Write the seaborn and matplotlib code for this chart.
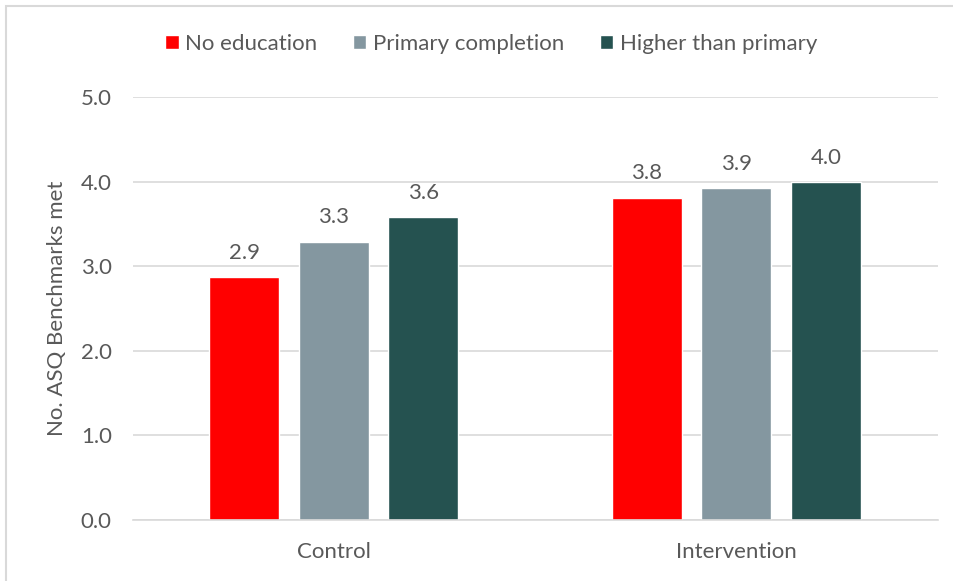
import numpy as np
import pandas as pd
import seaborn as sns
import matplotlib.pyplot as plt
from matplotlib.patches import Rectangle

# data
groups = ["Control", "Intervention"]
education = ["No education", "Primary completion", "Higher than primary"]
control_vals = [2.87, 3.29, 3.58]
intervention_vals = [3.81, 3.92, 3.99]
colors = ["#FF0000", "#8497A0", "#255250"]

df = pd.DataFrame({
    "group": [g for g in groups for _ in education],
    "education": education * 2,
    "value": control_vals + intervention_vals,
})

sns.set_theme(style="white")
plt.rcParams["font.family"] = ["Lato", "DejaVu Sans"]
text_color = "#595959"
fs = 16

fig = plt.figure(figsize=(9.54, 5.81), dpi=100)
ax = fig.add_axes([0.139, 0.105, 0.844, 0.728])

sns.barplot(data=df, x="group", y="value", hue="education", hue_order=education,
            palette=colors, saturation=1, width=0.667, gap=0.218, ax=ax, legend=True)

ax.set_ylim(0, 5)
ax.set_yticks(np.arange(0, 5.01, 1.0))
ax.set_yticklabels([f"{v:.1f}" for v in np.arange(0, 5.01, 1.0)])
ax.yaxis.grid(True, color="#D9D9D9", linewidth=1.2)
ax.set_axisbelow(True)
for s in ["top", "right", "left"]:
    ax.spines[s].set_visible(False)
ax.spines["bottom"].set_color("#D9D9D9")
ax.spines["bottom"].set_linewidth(1.2)
ax.tick_params(axis="both", length=0, labelsize=fs, colors=text_color)
ax.tick_params(axis="y", pad=15)
ax.tick_params(axis="x", pad=16)
ax.set_xlabel("")
ax.set_ylabel("No. ASQ Benchmarks met", fontsize=fs, color=text_color, labelpad=10)

for cont in ax.containers:
    ax.bar_label(cont, fmt="%.1f", padding=10.5, fontsize=fs, color=text_color)

handles, labels = ax.get_legend_handles_labels()
ax.legend(handles, labels, loc="center", bbox_to_anchor=(0.515, 0.924),
          bbox_transform=fig.transFigure, ncol=3, frameon=False, fontsize=fs,
          labelcolor=text_color, handlelength=0.6, handleheight=0.6,
          handletextpad=0.3, columnspacing=1.6)

# light frame around the chart
fig.patches.append(Rectangle((6 / 954, -0.05), 1.1, 1.05 - 6 / 581, transform=fig.transFigure,
                             fill=False, edgecolor="#D9D9D9", linewidth=1.5))

fig.savefig("out.png", dpi=100)
